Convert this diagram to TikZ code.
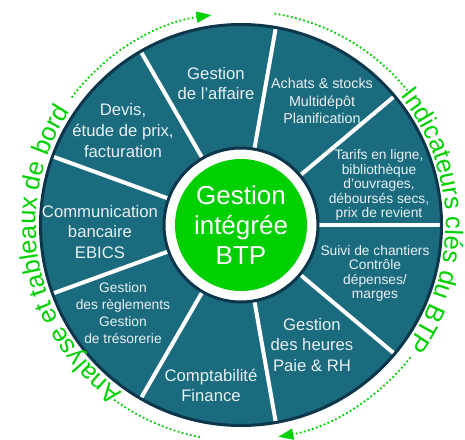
\documentclass[tikz,border=0pt]{standalone}
\usepackage{fontspec}
\setmainfont{Liberation Sans}
\usepackage{tikz}
\usetikzlibrary{decorations.text}
\usetikzlibrary{arrows.meta}
\tikzset{>={Triangle[length=15pt,width=11pt]}}
\definecolor{wheelteal}{HTML}{1B6B7E}
\definecolor{wheeldark}{HTML}{0C374B}
\definecolor{btpgreen}{HTML}{00D000}
\definecolor{labelwhite}{HTML}{E8F0F2}
\newcommand{\wheelfont}[2]{\fontsize{#1}{#2}\selectfont}

\begin{document}
\begin{tikzpicture}[x=1pt,y=1pt]
        \tikzstyle{spoke} = [white, line width=4pt]
        \tikzstyle{sector} = [text=labelwhite, align=center, inner sep=0pt]
        \tikzstyle{dotarc} = [btpgreen, line width=1.8pt, dash pattern=on 1.8pt off 2.4pt]
        \useasboundingbox (-241,-214) rectangle (224,225);

        % wheel and spokes
        \fill[wheelteal] (0,0) circle (200.5);
        \foreach \a in {0,40,...,320}
          \draw[spoke] (\a:70) -- (\a:200);
        \draw[wheeldark, line width=3pt] (0,0) circle (200.5);
        \node[circle, draw=wheeldark, line width=3pt, fill=white, minimum size=154pt, inner sep=0pt] (hub) at (0,0) {};
        \node[circle, fill=btpgreen, minimum size=132pt, inner sep=0pt, text=white, align=center,
              font=\wheelfont{26}{30}] (core) at (hub) {Gestion\\intégrée\\BTP};

        % sectors
        \node[sector, font=\wheelfont{16.7}{20}] (affaire) at (-25,141) {Gestion\\de l’affaire};
        \node[sector, font=\wheelfont{14.3}{17.5}] (achats) at (81,124) {Achats \& stocks\\Multidépôt\\Planification};
        \node[sector, font=\wheelfont{13.8}{14.5}] (tarifs) at (138,40) {Tarifs en ligne,\\bibliothèque\\d’ouvrages,\\déboursés secs,\\prix de revient};
        \node[sector, font=\wheelfont{13.8}{14.5}] (suivi) at (134,-48.5) {Suivi de chantiers\\Contrôle\\dépenses/\\marges};
        \node[sector, font=\wheelfont{16.7}{20.5}] (heures) at (71,-120) {Gestion\\des heures\\Paie \& RH};
        \node[sector, font=\wheelfont{16.7}{20}] (compta) at (-30,-160) {Comptabilité\\Finance};
        \node[sector, font=\wheelfont{13.8}{17}] (reglements) at (-118,-88) {Gestion\\des règlements\\Gestion\\de trésorerie};
        \node[sector, font=\wheelfont{16.7}{20.5}] (banque) at (-141,-7) {Communication\\bancaire\\EBICS};
        \node[sector, font=\wheelfont{16.7}{21}] (devis) at (-118,94) {Devis,\\étude de prix,\\facturation};

        % outer ring: texts and dotted arrows
        \path[decorate, decoration={text along path, text align=center,
              text={|\wheelfont{25.5}{25.5}\color{btpgreen}|Analyse et tableaux de bord}}]
              (238:205) arc[start angle=238, end angle=143, radius=205];
        \path[decorate, decoration={text along path, text align=center,
              text={|\wheelfont{25.5}{25.5}\color{btpgreen}|Indicateurs clés du BTP}}]
              (42:205) arc[start angle=42, end angle=-39, radius=205];
        \draw[dotarc, ->] (143:212) arc[start angle=143, end angle=98, radius=212];
        \draw[dotarc] (81:214) arc[start angle=81, end angle=39, radius=214];
        \draw[dotarc, ->] (-38:215) arc[start angle=-38, end angle=-80, radius=215];
        \draw[dotarc] (-101:216) arc[start angle=-101, end angle=-126, radius=216];
\end{tikzpicture}
\end{document}
